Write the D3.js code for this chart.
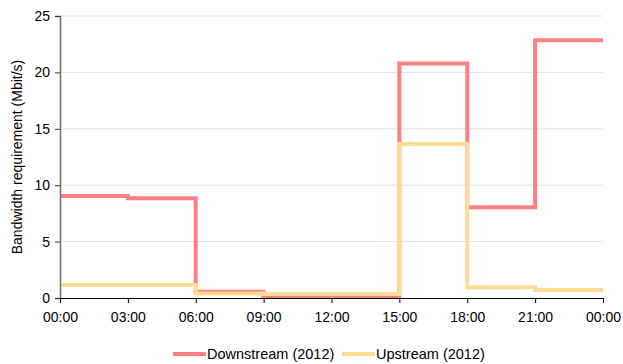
<!DOCTYPE html>
<html>
<head>
<meta charset="utf-8">
<script src="https://cdn.jsdelivr.net/npm/d3@7/dist/d3.min.js"></script>
<style>
  html, body { margin: 0; padding: 0; background: #fff; }
  svg { display: block; font-family: "Liberation Sans", Arial, sans-serif; }
</style>
</head>
<body>
<svg id="chart" width="623" height="364"></svg>
<script>
// Time slots (hours since midnight) — each value holds until the next slot
const hours = [0, 3, 6, 9, 12, 15, 18, 21];
const tickLabels = ["00:00", "03:00", "06:00", "09:00", "12:00", "15:00", "18:00", "21:00", "00:00"];
const downstream = [9.05, 8.85, 0.55, 0.1, 0.1, 20.8, 8.05, 22.85];
const upstream = [1.15, 1.15, 0.4, 0.35, 0.35, 13.65, 0.95, 0.72];
const yTicks = [0, 5, 10, 15, 20, 25];
const seriesNames = ["Downstream (2012)", "Upstream (2012)"];
const seriesColors = ["#ff8080", "#ffdc96"];

const svg = d3.select("#chart");
const margin = { left: 60, right: 20, top: 16, bottom: 66 };
const W = 623, H = 364;

const x = d3.scaleLinear().domain([0, 24]).range([margin.left, W - margin.right]);
const y = d3.scaleLinear().domain([0, 25]).range([H - margin.bottom, margin.top]);

// horizontal gridlines
svg.append("g")
  .selectAll("line")
  .data(yTicks.filter(d => d > 0))
  .join("line")
  .attr("x1", x(0)).attr("x2", x(24))
  .attr("y1", d => y(d)).attr("y2", d => y(d))
  .attr("stroke", "#e3e3e3").attr("stroke-width", 1);

// step lines: extend the last slot through to midnight
function stepPoints(vals) {
  const pts = hours.map((h, i) => [h, vals[i]]);
  pts.push([24, vals[vals.length - 1]]);
  return pts;
}
const line = d3.line()
  .x(d => x(d[0]))
  .y(d => y(d[1]))
  .curve(d3.curveStepAfter);

[downstream, upstream].forEach((vals, i) => {
  svg.append("path")
    .datum(stepPoints(vals))
    .attr("fill", "none")
    .attr("stroke", seriesColors[i])
    .attr("stroke-width", 4)
    .attr("stroke-linejoin", "miter")
    .attr("d", line);
});

// y axis
const yAxis = svg.append("g")
  .attr("transform", `translate(${x(0)},0)`)
  .call(d3.axisLeft(y).tickValues(yTicks).tickSize(5).tickPadding(5).tickFormat(d3.format("d")));
yAxis.select(".domain").attr("stroke", "#6e6e6e").attr("stroke-width", 1.5);
yAxis.selectAll(".tick line").attr("stroke", "#333");
yAxis.selectAll("text").attr("font-size", 14).attr("fill", "#000");

// x axis
const xAxis = svg.append("g")
  .attr("transform", `translate(0,${y(0)})`)
  .call(d3.axisBottom(x).tickValues(d3.range(0, 25, 3)).tickSize(5).tickPadding(9)
    .tickFormat((d, i) => tickLabels[i]));
xAxis.select(".domain").attr("stroke", "#000").attr("stroke-width", 1);
xAxis.selectAll(".tick line").attr("stroke", "#000");
xAxis.selectAll("text").attr("font-size", 14).attr("fill", "#000");

// y axis title
svg.append("text")
  .attr("transform", `translate(22,${(y(0) + y(25)) / 2}) rotate(-90)`)
  .attr("text-anchor", "middle")
  .attr("font-size", 14)
  .attr("fill", "#000")
  .text("Bandwidth requirement (Mbit/s)");

// legend
const legendY = 354;
const legendX = [173, 342];
seriesNames.forEach((name, i) => {
  const g = svg.append("g").attr("transform", `translate(${legendX[i]},${legendY})`);
  g.append("line").attr("x1", 0).attr("x2", 33).attr("y1", 0).attr("y2", 0)
    .attr("stroke", seriesColors[i]).attr("stroke-width", 4);
  g.append("text").attr("x", 34).attr("y", 5)
    .attr("font-size", 14.5).attr("fill", "#000").text(name);
});
</script>
</body>
</html>
